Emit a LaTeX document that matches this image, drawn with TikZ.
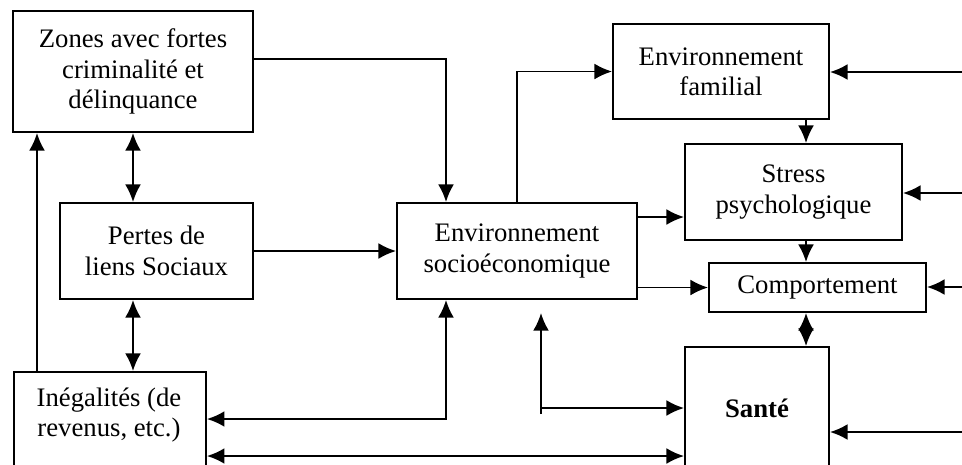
\documentclass[tikz,border=0pt]{standalone}
\usepackage{fontspec}
\setmainfont{Liberation Serif}
\usetikzlibrary{arrows.meta}
\begin{document}
\begin{tikzpicture}[x=0.02cm,y=-0.02cm,>={Latex[length=10pt,width=9pt]},line width=1.1pt,
    every node/.style={font=\fontsize{15.2}{17.3}\selectfont},
    box/.style={draw,align=center,inner sep=0pt}]
    \useasboundingbox (0,0) rectangle (962,464);
    \clip (0,0) rectangle (962,464);
    % boxes
    \path (133,71.5) node[box,minimum width=4.8cm,minimum height=2.42cm](zones){Zones avec fortes\\criminalité et\\délinquance};
    \path (156.5,251) node[box,minimum width=3.86cm,minimum height=1.92cm](pertes){Pertes de\\liens Sociaux};
    \path (517,251) node[box,minimum width=4.8cm,minimum height=1.92cm](socio){Environnement\\socioéconomique};
    \path (13,371) node[box,anchor=north west,minimum width=3.84cm,minimum height=2.6cm](inegal){};
    \path (109,415) node[align=center](inegaltxt){Inégalités (de\\revenus, etc.)};
    \path (721,71.5) node[box,minimum width=4.32cm,minimum height=1.9cm](famil){Environnement\\familial};
    \path (793.5,192) node[box,minimum width=4.34cm,minimum height=1.92cm](stress){Stress\\psychologique};
    \path (817.5,287.5) node[box,minimum width=4.34cm,minimum height=0.98cm](compo){Comportement};
    \path (757,408) node[box,minimum width=2.88cm,minimum height=2.44cm](sante){\textbf{Santé}};
    % helper points
    \coordinate (a1) at (446,59);
    \coordinate (a2) at (37,0);
    \coordinate (a3) at (133,0);
    \coordinate (a4) at (446,419);
    \coordinate (a5) at (0,456);
    \coordinate (a6) at (806,0);
    \coordinate (a7) at (0,217);
    \coordinate (e1) at (962,72);
    \coordinate (e2) at (962,193);
    \coordinate (e3) at (962,287);
    \coordinate (e4) at (962,432);
    \coordinate (h1) at (541,414);
    \coordinate (h2) at (541,313);
    \coordinate (h3) at (541,408);
    % left part
    \draw[->] (zones.east |- a1) -| (socio.north -| a1);
    \draw[->] (inegal.north -| a2) -- (zones.south -| a2);
    \draw[<->] (zones.south -| a3) -- (pertes.north -| a3);
    \draw[<->] (pertes.south -| a3) -- (inegal.north -| a3);
    \draw[->] (pertes) -- (socio);
    \draw[<->] (socio.south -| a4) |- (inegal.east |- a4);
    \draw[<->] (inegal.east |- a5) -- (sante.west |- a5);
    % right part
    \draw[->] (socio.north) |- (famil.west);
    \draw[->] (e1) -- (famil.east |- e1);
    \draw[->] (famil.south -| a6) -- (stress.north -| a6);
    \draw[->] (socio.east |- a7) -- (stress.west |- a7);
    \draw[->] (e2) -- (stress.east |- e2);
    \draw[->] (stress.south -| a6) -- (compo.north -| a6);
    \draw[->] (socio.east |- compo) -- (compo.west);
    \draw[->] (e3) -- (compo.east |- e3);
    \draw[<->] (compo.south -| a6) -- (sante.north -| a6);
    \draw[->] (h1) -- (h2);
    \draw[->] (h3) -- (sante.west);
    \draw[->] (e4) -- (sante.east |- e4);
\end{tikzpicture}
\end{document}
